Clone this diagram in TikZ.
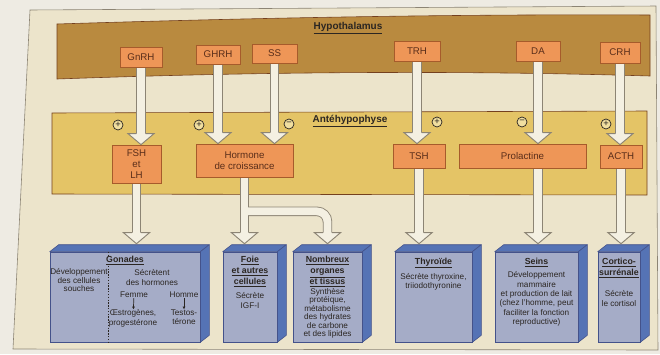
\documentclass[tikz,border=0pt]{standalone}
\usepackage{fontspec}
\setmainfont{Liberation Sans}
\usetikzlibrary{positioning,calc,backgrounds,arrows.meta}

\definecolor{outside}{HTML}{EEEBE3}
\definecolor{page}{HTML}{ECE4CB}
\definecolor{hypofill}{HTML}{B98A3F}
\definecolor{antefill}{HTML}{E4C466}
\definecolor{boxfill}{HTML}{EE9657}
\definecolor{boxedge}{HTML}{A65B2B}
\definecolor{boxtext}{HTML}{5A2E1A}
\definecolor{organfill}{HTML}{A5ACC7}
\definecolor{organedge}{HTML}{44528A}
\definecolor{organside}{HTML}{5573B5}
\definecolor{stemfill}{HTML}{F4F0E2}
\definecolor{stemedge}{HTML}{8C8474}
\definecolor{ink}{HTML}{2B2622}
\definecolor{signfill}{HTML}{F1DFA0}

\tikzset{
  hormbox/.style={draw=boxedge, fill=boxfill, text=boxtext, line width=0.6pt,
    inner sep=0pt, align=center, font=\fontsize{8.3}{9.6}\selectfont},
  organ/.style={draw=organedge, fill=organfill, line width=0.5pt, inner sep=0pt,
    minimum height=2.7cm},
  organface/.style={draw=organedge, fill=organside, line width=0.5pt, line join=round},
  bandtitle/.style={text=ink, inner sep=0pt, font=\bfseries\fontsize{8.5}{10}\selectfont},
  otitle/.style={text=ink, inner sep=0pt, align=center, font=\bfseries\fontsize{7.5}{9.3}\selectfont},
  otext/.style={text=ink, inner sep=0pt, align=center, font=\fontsize{7}{8}\selectfont},
  sign/.style={circle, draw=ink, fill=signfill, inner sep=0pt, minimum size=0.3cm,
    line width=0.6pt, text=ink, font=\fontsize{8}{8}\selectfont},
  stemout/.style={line width=8.1pt, draw=stemedge},
  stemin/.style={line width=6.6pt, draw=stemfill},
  headline/.style={draw=stemedge, line width=0.8pt, line join=miter},
  smallarrow/.style={-{Latex[length=2.5pt, width=2.5pt]}, line width=0.6pt, draw=ink},
  divider/.style={draw=ink, line width=0.5pt, dash pattern=on 1.2pt off 1.2pt}
}

\newcommand{\fathead}[1]{%
  \fill[stemfill] ($(#1)+(-13,-11)$) -- (#1) -- ($(#1)+(13,-11)$) -- cycle;
  \draw[headline] ($(#1)+(-4.7,-11)$) -- ++(-8.3,0) -- (#1) -- ($(#1)+(13,-11)$) -- ++(-8.3,0);}
\newcommand{\fatarrow}[2]{%
  \draw[stemout] (#1) -- ($(#2)+(0,-10)$);
  \draw[stemin] (#1) -- ($(#2)+(0,-10)$);
  \fathead{#2}}

\begin{document}
\begin{tikzpicture}[x = 0.03cm, y = -0.03cm]
\useasboundingbox (0,0) rectangle (660,354);

\node[bandtitle] (hypot) at (348,28) {\underline{Hypothalamus}};
\node[hormbox, minimum width=1.26cm, minimum height=0.6cm] (GnRH) at (141,57) {GnRH};
\node[hormbox, minimum width=1.32cm, minimum height=0.57cm] (GHRH) at (218,54.5) {GHRH};
\node[hormbox, minimum width=1.35cm, minimum height=0.57cm] (SS) at (274.5,53.5) {SS};
\node[hormbox, minimum width=1.38cm, minimum height=0.6cm] (TRH) at (417,51) {TRH};
\node[hormbox, minimum width=1.32cm, minimum height=0.6cm] (DA) at (538,51) {DA};
\node[hormbox, minimum width=1.2cm, minimum height=0.63cm] (CRH) at (620,52.5) {CRH};

\node[bandtitle] (antet) at (350,121) {\underline{Antéhypophyse}};
\node[sign] (s1) at (118,125) {+};
\node[sign] (s2) at (199,125) {+};
\node[sign] (s3) at (289,124) {−};
\node[sign] (s4) at (437,122) {+};
\node[sign] (s5) at (522,122) {−};
\node[sign] (s6) at (606,124) {+};
\node[hormbox, minimum width=1.47cm, minimum height=1.14cm] (FSH) at (136.5,164) {FSH\\et\\LH};
\node[hormbox, minimum width=2.91cm, minimum height=0.99cm] (GH) at (244.5,160.5) {Hormone\\de croissance};
\node[hormbox, minimum width=1.56cm, minimum height=0.72cm] (TSH) at (419,156) {TSH};
\node[hormbox, minimum width=3.81cm, minimum height=0.72cm] (PRL) at (522.5,156) {Prolactine};
\node[hormbox, minimum width=1.26cm, minimum height=0.69cm] (ACTH) at (621,156.5) {ACTH};

\node[organ, minimum width=4.5cm] (gon) at (125,297) {};
\node[organ, minimum width=1.62cm] (foie) at (250,297) {};
\node[organ, minimum width=2.07cm] (nomb) at (327.5,297) {};
\node[organ, minimum width=2.31cm] (thyr) at (433.5,297) {};
\node[organ, minimum width=2.49cm] (seins) at (536.5,297) {};
\node[organ, minimum width=1.26cm] (cort) at (619,297) {};

\draw[divider] ($(gon.north west)+(59,0)$) -- ($(gon.south west)+(59,0)$);
\node[otitle, fill=organfill, below=3.5pt of gon.north] (gont) {\underline{Gonades}};
\node[otext, anchor=north, font=\fontsize{7}{7.3}\selectfont] (gonl) at (79,268.5) {Développement\\des cellules\\souches};
\node[otext, anchor=north] (gonr) at (152,269.5) {Sécrètent\\des hormones};
\node[otext] (femme) at (134,295) {Femme};
\node[otext] (homme) at (184,295) {Homme};
\node[otext, anchor=north] (oestro) at (133,309.5) {Œstrogènes,\\progestérone};
\node[otext, anchor=north] (testo) at (184,309.5) {Testos-\\térone};
\draw[smallarrow] (femme) -- (oestro);
\draw[smallarrow] (homme) -- (testo);

\node[otitle, below=3.5pt of foie.north] (foiet) {\underline{Foie}\\\underline{et autres}\\\underline{cellules}};
\node[otext, below=5pt of foiet] (foiex) {Sécrète\\IGF-I};

\node[otitle, below=3.5pt of nomb.north] (nombt) {\underline{Nombreux}\\\underline{organes}\\\underline{et tissus}};
\node[otext, below=1pt of nombt, font=\fontsize{7}{7.2}\selectfont] (nombx) {Synthèse\\protéique,\\métabolisme\\des hydrates\\de carbone\\et des lipides};

\node[otitle, below=5pt of thyr.north] (thyrt) {\underline{Thyroïde}};
\node[otext, below=4pt of thyrt] (thyrx) {Sécrète thyroxine,\\triiodothyronine};

\node[otitle, below=5pt of seins.north] (seinst) {\underline{Seins}};
\node[otext, below=4pt of seinst] (seinsx) {Développement\\mammaire\\et production de lait\\(chez l'homme, peut\\faciliter la fonction\\reproductive)};

\node[otitle, below=5pt of cort.north] (cortt) {\underline{Cortico-}\\\underline{surrénale}};
\node[otext, below=11pt of cortt] (cortx) {Sécrète\\le cortisol};

\coordinate (gontop) at ($(gon.north)+(0,-8)$);
\coordinate (foietop) at ($(foie.north)+(0,-8)$);
\coordinate (nombtop) at ($(nomb.north)+(0,-8)$);
\coordinate (fork) at ($(GH.south)+(0,34)$);
\coordinate (nombend) at ($(nombtop)+(0,-10)$);

\begin{scope}[on background layer]
\fill[outside] (0,0) rectangle (660,354);
\filldraw[page, draw=stemedge, line width=0.5pt] (30,10) -- (656,6) -- (658,350) -- (13,349) -- cycle;
\filldraw[hypofill, draw=boxedge!70!black, line width=0.5pt] (57,24) .. controls (250,18) and (450,14) .. (650,15)
  -- (650,76) .. controls (450,70) and (250,72) .. (57,79) -- cycle;
\filldraw[antefill, draw=boxedge!70!black, line width=0.5pt] (52,113) -- (647,111) -- (647,195) -- (52,194) -- cycle;
\foreach \b in {gon,foie,nomb,thyr,seins,cort}{
  \filldraw[organface] (\b.north west) -- ++(9,-7) -- ($(\b.north east)+(9,-7)$) -- (\b.north east) -- cycle;
  \filldraw[organface] (\b.north east) -- ++(9,-7) -- ($(\b.south east)+(9,-7)$) -- (\b.south east) -- cycle;
}
\fatarrow{GnRH.south}{GnRH.south |- FSH.north}
\fatarrow{GHRH.south}{GHRH.south |- GH.north}
\fatarrow{SS.south}{SS.south |- GH.north}
\fatarrow{TRH.south}{TRH.south |- TSH.north}
\fatarrow{DA.south}{DA.south |- PRL.north}
\fatarrow{CRH.south}{CRH.south |- ACTH.north}
\fatarrow{FSH.south}{FSH.south |- gontop}
\fatarrow{PRL.south -| DA.south}{DA.south |- gontop}
\fatarrow{TSH.south}{TSH.south |- gontop}
\fatarrow{ACTH.south}{ACTH.south |- gontop}
\draw[stemout] (GH.south) -- ($(foietop -| GH.south)+(0,-10)$);
\draw[stemout, rounded corners=9pt] (fork) -| (nombend);
\draw[stemin] (GH.south) -- ($(foietop -| GH.south)+(0,-10)$);
\draw[stemin, rounded corners=9pt] (fork) -| (nombend);
\fathead{foietop -| GH.south}
\fathead{nombtop}
\end{scope}
\end{tikzpicture}
\end{document}
